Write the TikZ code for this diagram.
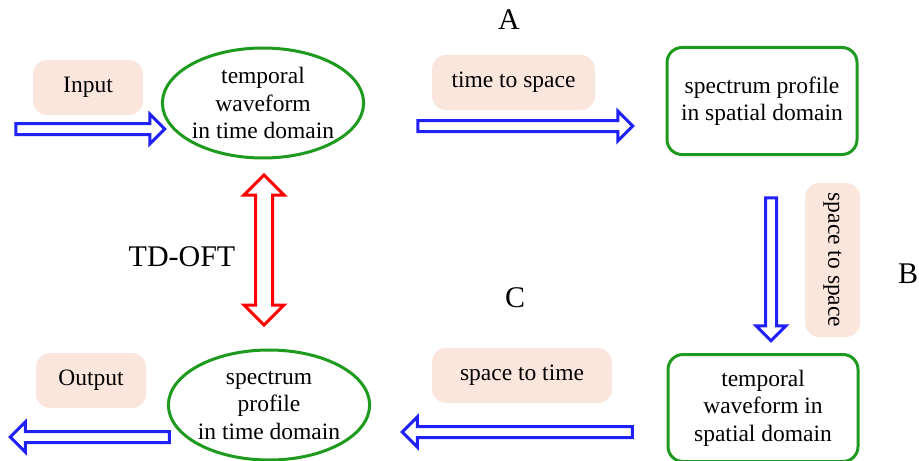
\documentclass[tikz,border=0pt]{standalone}
\usepackage{fontspec}
\setmainfont{Liberation Serif}
\usepackage{tikz}
\usetikzlibrary{positioning,calc,shapes.geometric,shapes.arrows}
\definecolor{edgegreen}{HTML}{1E9B1E}
\definecolor{tagpink}{HTML}{FBE6DE}
\definecolor{flowblue}{HTML}{2020F8}
\tikzset{
  sd/.style={align=center, font=\fontsize{11.75}{13.75}\selectfont, inner sep=0pt},
  sd oval/.style={sd, ellipse, draw=edgegreen, line width=1.5pt, minimum width=96.5pt, minimum height=55pt},
  sd box/.style={sd, rounded corners=7.5pt, draw=edgegreen, line width=1.5pt, minimum width=95pt, minimum height=53.5pt},
  sd tag/.style={sd, rounded corners=7pt, fill=tagpink, minimum width=55pt, minimum height=27.5pt},
  sd big/.style={font=\fontsize{15}{18}\selectfont, inner sep=0pt},
  sd blk/.style={single arrow, draw=flowblue, fill=white, line width=1.5pt, inner sep=2pt,
                 single arrow head extend=4.75pt},
  sd twin/.style={double arrow, draw=red, fill=white, line width=1.5pt, inner sep=3.5pt,
                  double arrow head extend=5.75pt},
}
% hollow block arrow between two named points: [style]{name}{from}{to}{direction}
\newcommand{\sdarrow}[5][sd blk]{%
  \path let \p1=($(#4)-(#3)$), \n1={veclen(\x1,\y1)} in
    ($(#3)!0.5!(#4)$) node[#1, minimum height=\n1, shape border rotate=#5] (#2) {};}

\begin{document}
\begin{tikzpicture}[x=0.5pt, y=-0.5pt]
  \useasboundingbox (0,0) rectangle (919,460);
  % domains
  \node[sd oval] (tw) at (263,103) {temporal\\waveform\\in time domain};
  \node[sd box] (sps) at (762,101) {spectrum profile\\in spatial domain};
  \node[sd box] (tws) at (763,408) {temporal\\waveform in\\spatial domain};
  \node[sd oval] (spt) at (269,405) {spectrum\\profile\\in time domain};
  % tags
  \node[sd tag] (in) at (88,87.5) {Input};
  \node[sd tag, minimum width=81.5pt] (t2s) at (513.5,82.5) {time to space};
  \node[sd tag, rotate=-90, minimum width=77pt] (s2s) at (832.5,260) {space to space};
  \node[sd tag, minimum width=90pt] (s2t) at (522,375.5) {space to time};
  \node[sd tag] (out) at (91,380.5) {Output};
  \node[sd big] (la) at (509,20) {A};
  \node[sd big] (lb) at (908,274) {B};
  \node[sd big] (lc) at (515,298) {C};
  \node[sd big] (ltd) at (182,257) {TD-OFT};
  % arrows
  \coordinate (i0) at (13,129);   \coordinate (i1) at (162,129);
  \coordinate (a0) at (415,126);  \coordinate (a1) at (630,126);
  \coordinate (b0) at (771,195);  \coordinate (b1) at (771,338);
  \coordinate (c0) at (635,432);  \coordinate (c1) at (405,432);
  \coordinate (o0) at (172,437);  \coordinate (o1) at (13,437);
  \coordinate (f0) at (264,175);  \coordinate (f1) at (264,325);
  \foreach \nm/\pa/\pb/\rt in {ia/i0/i1/0, ab/a0/a1/0, bc/b0/b1/270, cd/c0/c1/180, oa/o0/o1/180}
    \sdarrow{\nm}{\pa}{\pb}{\rt};
  \sdarrow[sd twin]{ft}{f0}{f1}{90};
\end{tikzpicture}
\end{document}
